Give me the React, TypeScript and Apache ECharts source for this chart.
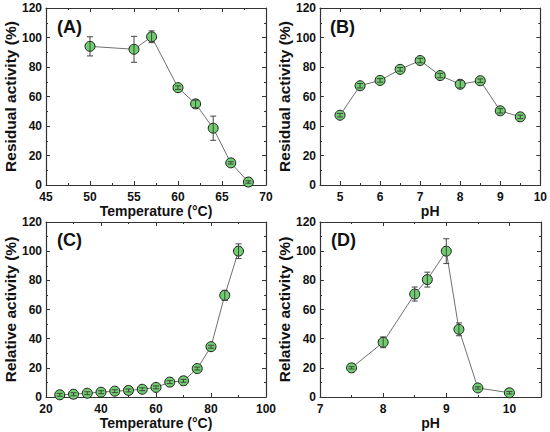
import React, { useEffect, useRef } from "react";
import * as echarts from "echarts";

// Panel A: residual activity vs temperature
const tempA = [50, 55, 57, 60, 62, 64, 66, 68];
const actA = [94, 92, 100.5, 66, 55, 38.5, 15, 2];
const errA = [6.5, 8.8, 4, 1.2, 2.5, 8.2, 0.8, 0.8];

// Panel B: residual activity vs pH
const phB = [5, 5.5, 6, 6.5, 7, 7.5, 8, 8.5, 9, 9.5];
const actB = [47.3, 67.3, 70.9, 78.4, 84.4, 74.2, 68.3, 70.7, 50.3, 46.2];
const errB = [1.2, 1.5, 1.2, 1.2, 1.5, 1.5, 2.5, 1.2, 1.5, 1.2];

// Panel C: relative activity vs temperature
const tempC = [25, 30, 35, 40, 45, 50, 55, 60, 65, 70, 75, 80, 85, 90];
const actC = [1.5, 1.9, 2.6, 3.3, 4, 4.5, 5.3, 6.6, 10.2, 11.1, 19.5, 34.5, 69.7, 100];
const errC = [1, 1, 1, 1, 1, 1, 1, 1, 1, 1, 1, 1, 3.5, 5];

// Panel D: relative activity vs pH
const phD = [7.5, 8, 8.5, 8.7, 9, 9.2, 9.5, 10];
const actD = [20, 37.5, 70.6, 80.5, 100, 46.4, 6.2, 2.9];
const errD = [0.8, 3.7, 4.8, 5.1, 8.5, 4.4, 0.8, 0.8];

// Axis ticks
const yMajor = [0, 20, 40, 60, 80, 100, 120];
const yMinor = [10, 30, 50, 70, 90, 110];
const xMajorA = [45, 50, 55, 60, 65, 70];
const xMinorA = [47.5, 52.5, 57.5, 62.5, 67.5];
const xMajorB = [5, 6, 7, 8, 9, 10];
const xMinorB = [4.5, 5.5, 6.5, 7.5, 8.5, 9.5];
const xMajorC = [20, 40, 60, 80, 100];
const xMinorC = [30, 50, 70, 90];
const xMajorD = [7, 8, 9, 10];
const xMinorD = [7.5, 8.5, 9.5, 10.5];

const FONT = "'Liberation Sans', Arial, sans-serif";
const TXT = "#111";
const AXC = "#333";

type Panel = {
  grid: { left: number; top: number; width: number; height: number };
  xMin: number; xMax: number; xMajor: number[]; xMinor: number[];
  xName: string; yName: string; xGap: number;
  xs: number[]; ys: number[]; es: number[]; tag: string; tagPos: [number, number];
};

const panels: Panel[] = [
  { grid: { left: 46, top: 8, width: 220, height: 177 }, xMin: 45, xMax: 70, xMajor: xMajorA, xMinor: xMinorA,
    xName: "Temperature (°C)", yName: "Residual activity (%)", xGap: 17, xs: tempA, ys: actA, es: errA, tag: "(A)", tagPos: [57, 18] },
  { grid: { left: 320, top: 8, width: 221, height: 177 }, xMin: 4.5, xMax: 10, xMajor: xMajorB, xMinor: xMinorB,
    xName: "pH", yName: "Residual activity (%)", xGap: 17, xs: phB, ys: actB, es: errB, tag: "(B)", tagPos: [330, 18] },
  { grid: { left: 46, top: 222, width: 220, height: 175 }, xMin: 20, xMax: 100, xMajor: xMajorC, xMinor: xMinorC,
    xName: "Temperature (°C)", yName: "Relative activity (%)", xGap: 18, xs: tempC, ys: actC, es: errC, tag: "(C)", tagPos: [57, 231] },
  { grid: { left: 320, top: 222, width: 221, height: 175 }, xMin: 7, xMax: 10.5, xMajor: xMajorD, xMinor: xMinorD,
    xName: "pH", yName: "Relative activity (%)", xGap: 18, xs: phD, ys: actD, es: errD, tag: "(D)", tagPos: [331, 231] },
];

function buildOption() {
  const grid: any[] = [];
  const xAxis: any[] = [];
  const yAxis: any[] = [];
  const series: any[] = [];
  const graphic: any[] = [];

  panels.forEach((p, gi) => {
    grid.push({ ...p.grid, containLabel: false });
    const xBase = xAxis.length;
    const yBase = yAxis.length;
    const mk = (
      pos: string, vals: number[], len: number, line: boolean, labels: boolean,
      min: number, max: number, isX: boolean
    ) => ({
      type: "value", gridIndex: gi, position: pos, min, max,
      axisLine: { show: line, onZero: false, lineStyle: { color: AXC, width: 1.2 } },
      axisTick: { show: true, inside: true, length: len, customValues: vals, lineStyle: { color: AXC, width: 1 } },
      axisLabel: labels
        ? { show: true, customValues: vals, margin: isX ? 6 : 4, color: TXT, fontFamily: FONT, fontWeight: "bold", fontSize: 12 }
        : { show: false },
      splitLine: { show: false },
    });
    // x axes
    const xb: any = mk("bottom", p.xMajor, 4, true, true, p.xMin, p.xMax, true);
    xb.name = p.xName;
    xb.nameLocation = "middle";
    xb.nameGap = p.xGap;
    xb.nameTextStyle = { color: TXT, fontFamily: FONT, fontWeight: "bold", fontSize: 14 };
    xAxis.push(xb);
    xAxis.push(mk("bottom", p.xMinor, 2, false, false, p.xMin, p.xMax, true));
    xAxis.push(mk("top", p.xMajor, 4, true, false, p.xMin, p.xMax, true));
    xAxis.push(mk("top", p.xMinor, 2, false, false, p.xMin, p.xMax, true));
    // y axes
    const yl: any = mk("left", yMajor, 4, true, true, 0, 120, false);
    yl.name = p.yName;
    yl.nameLocation = "middle";
    yl.nameGap = 27;
    yl.nameTextStyle = { color: TXT, fontFamily: FONT, fontWeight: "bold", fontSize: 15.5 };
    yAxis.push(yl);
    yAxis.push(mk("left", yMinor, 2, false, false, 0, 120, false));
    yAxis.push(mk("right", yMajor, 4, true, false, 0, 120, false));
    yAxis.push(mk("right", yMinor, 2, false, false, 0, 120, false));

    series.push({
      type: "line",
      xAxisIndex: xBase,
      yAxisIndex: yBase,
      data: p.xs.map((x, i) => [x, p.ys[i]]),
      symbol: "circle",
      symbolSize: 10,
      itemStyle: { color: "#6fcf6f", borderColor: "#1a1a1a", borderWidth: 1 },
      lineStyle: { color: "#707070", width: 1 },
      z: 2,
    });
    series.push({
      type: "custom",
      xAxisIndex: xBase,
      yAxisIndex: yBase,
      data: p.xs.map((x, i) => [x, p.ys[i] - p.es[i], p.ys[i] + p.es[i]]),
      encode: { x: 0, y: [1, 2] },
      z: 3,
      renderItem: (_params: any, api: any) => {
        const x = api.value(0);
        const lo = api.coord([x, api.value(1)]);
        const hi = api.coord([x, api.value(2)]);
        const w = 3;
        const st = { stroke: "#444", lineWidth: 1 };
        return {
          type: "group",
          children: [
            { type: "line", shape: { x1: lo[0], y1: lo[1], x2: hi[0], y2: hi[1] }, style: st },
            { type: "line", shape: { x1: lo[0] - w, y1: lo[1], x2: lo[0] + w, y2: lo[1] }, style: st },
            { type: "line", shape: { x1: hi[0] - w, y1: hi[1], x2: hi[0] + w, y2: hi[1] }, style: st },
          ],
        };
      },
    });
    graphic.push({
      type: "text",
      left: p.tagPos[0],
      top: p.tagPos[1],
      style: { text: p.tag, fill: TXT, font: `bold 18px ${FONT}` },
    });
  });

  return { animation: false, backgroundColor: "#fff", grid, xAxis, yAxis, series, graphic };
}

export default function App() {
  const ref = useRef<HTMLDivElement>(null);
  useEffect(() => {
    document.body.style.margin = "0";
    const chart = echarts.init(ref.current!, undefined, { renderer: "svg" });
    chart.setOption(buildOption() as any);
    return () => chart.dispose();
  }, []);
  return <div ref={ref} style={{ position: "absolute", left: 0, top: 0, width: 550, height: 432 }} />;
}
